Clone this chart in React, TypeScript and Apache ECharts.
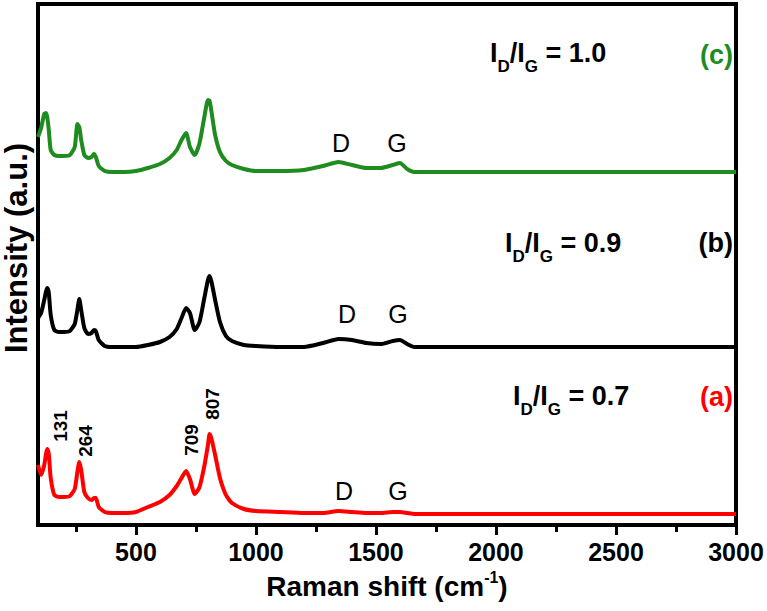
import React, { useEffect, useRef } from 'react';
import * as echarts from 'echarts';

// Raman shift (cm-1) sampling positions
const ramanShift = [
  92, 105, 118, 126, 131, 137, 145, 160, 180, 200, 225, 245, 256, 264, 272, 285, 300, 315, 325, 333,
  345, 370, 400, 450, 500, 550, 600, 640, 670, 690, 709, 725, 745, 765, 785, 800, 807, 815, 830, 850,
  875, 900, 950, 1000, 1100, 1200, 1280, 1344, 1400, 1460, 1520, 1570, 1600, 1630, 1660, 1700, 1800,
  2000, 2200, 2400, 2600, 2800, 3000,
];

// (a) red, I_D/I_G = 0.7 (offset a.u.)
const intensityA = [
  60, 50, 60, 72, 76, 71, 47, 30, 28, 28, 29, 36, 53, 63, 55, 33, 27, 25, 27, 27,
  18, 13, 12, 12, 13, 18, 23, 30, 39, 47, 54, 46, 31, 38, 59, 80, 91, 86, 70, 47,
  30, 22, 16, 14, 13, 12, 12, 14, 13, 12, 12, 13, 13, 12, 11, 11, 11,
  11, 11, 11, 11, 11, 11,
];

// (b) black, I_D/I_G = 0.9
const intensityB = [
  207, 212, 225, 234, 237, 232, 210, 195, 193, 193, 194, 201, 215, 226, 215, 197, 191, 192, 195, 194,
  185, 179, 178, 178, 178, 180, 183, 188, 196, 207, 217, 212, 195, 203, 227, 245, 249, 243, 225, 203,
  189, 184, 180, 179, 178, 178, 182, 186, 185, 182, 181, 184, 185, 181, 178, 178, 178,
  178, 178, 178, 178, 178, 178,
];

// (c) green, I_D/I_G = 1.0
const intensityC = [
  388, 397, 411, 412, 407, 395, 375, 370, 369, 369, 370, 378, 401, 398, 385, 370, 367, 368, 371, 368,
  359, 354, 353, 353, 354, 357, 361, 367, 375, 385, 392, 378, 370, 382, 408, 425, 424, 413, 390, 373,
  364, 360, 356, 354, 354, 355, 359, 363, 360, 357, 357, 360, 362, 356, 353, 353, 353,
  353, 353, 353, 353, 353, 353,
];

const majorTicks = [500, 1000, 1500, 2000, 2500, 3000];
const minorTicks = [250, 750, 1250, 1750, 2250, 2750];
const peakLabels = ['131', '264', '709', '807'];
const ratioValues = ['0.7', '0.9', '1.0'];
const sampleTags = ['(a)', '(b)', '(c)'];

const FONT = '"Liberation Sans", Arial, Helvetica, sans-serif';
const RED = '#ff0000';
const BLACK = '#000000';
const GREEN = '#1e8c1e';

const X_MIN = 92;
const X_MAX = 3000;

export default function App() {
  const ref = useRef<HTMLDivElement>(null);

  useEffect(() => {
    document.body.style.margin = '0';
    if (!ref.current) return;
    const chart = echarts.init(ref.current, undefined, { renderer: 'svg' });

    const ratioText = (x: number, y: number, val: string) => ({
      type: 'text',
      x,
      y,
      style: {
        text: `{m|I}{s|D}{m|/I}{s|G}{m| = ${val}}`,
        align: 'left',
        verticalAlign: 'middle',
        rich: {
          m: { fontSize: 27, fontWeight: 'bold', fontFamily: FONT, fill: BLACK, lineHeight: 44 },
          s: { fontSize: 17, fontWeight: 'bold', fontFamily: FONT, fill: BLACK, lineHeight: 17, verticalAlign: 'bottom' },
        },
      },
    });
    const tag = (x: number, y: number, t: string, color: string) => ({
      type: 'text',
      x,
      y,
      style: { text: t, align: 'right', verticalAlign: 'middle', font: `bold 27px ${FONT}`, fill: color },
    });
    const dg = (x: number, y: number, t: string) => ({
      type: 'text',
      x,
      y,
      style: { text: t, align: 'center', verticalAlign: 'middle', font: `25px ${FONT}`, fill: BLACK },
    });
    const peak = (x: number, y: number, t: string) => ({
      type: 'text',
      x,
      y,
      rotation: Math.PI / 2,
      style: { text: t, align: 'center', verticalAlign: 'middle', font: `bold 19px ${FONT}`, fill: BLACK },
    });

    const mkSeries = (vals: number[], color: string, name: string) => ({
      type: 'line',
      name,
      data: ramanShift.map((x, i) => [x, vals[i]]),
      showSymbol: false,
      symbol: 'none',
      smooth: 0.2,
      lineStyle: { color, width: 4 },
      itemStyle: { color },
      xAxisIndex: 0,
      yAxisIndex: 0,
      clip: true,
    });

    const gridBox = { left: 38, right: 31, top: 4, bottom: 86, outerBoundsMode: 'none' };

    chart.setOption({
      animation: false,
      backgroundColor: '#ffffff',
      grid: [
        {
          ...gridBox,
          show: true,
          borderColor: '#000',
          borderWidth: 4,
          backgroundColor: 'transparent',
        },
        { ...gridBox, show: false },
      ],
      xAxis: [
        {
          type: 'value',
          gridIndex: 0,
          min: X_MIN,
          max: X_MAX,
          position: 'bottom',
          axisLine: { show: true, onZero: false, lineStyle: { color: '#000', width: 4 } },
          axisTick: { show: true, customValues: majorTicks, length: 10, lineStyle: { color: '#000', width: 3 } },
          axisLabel: {
            show: true,
            customValues: majorTicks,
            formatter: (v: number) => String(v),
            margin: 14,
            color: '#000',
            fontSize: 25,
            fontWeight: 'bold',
            fontFamily: FONT,
          },
          splitLine: { show: false },
          name: '{n|Raman shift (cm}{s|-1}{n|)}',
          nameLocation: 'middle',
          nameGap: 44,
          nameTextStyle: {
            rich: {
              n: { fontSize: 28, fontWeight: 'bold', fontFamily: FONT, color: '#000', lineHeight: 34 },
              s: { fontSize: 16, fontWeight: 'bold', fontFamily: FONT, color: '#000', lineHeight: 24, verticalAlign: 'top' },
            },
          },
        },
        {
          type: 'value',
          gridIndex: 1,
          min: X_MIN,
          max: X_MAX,
          position: 'bottom',
          axisLine: { show: false, onZero: false },
          axisTick: { show: true, customValues: minorTicks, length: 7, lineStyle: { color: '#000', width: 3 } },
          axisLabel: { show: false, customValues: minorTicks },
          splitLine: { show: false },
        },
      ],
      yAxis: [
        {
          type: 'value',
          gridIndex: 0,
          min: 0,
          max: 521,
          axisLine: { show: false },
          axisTick: { show: false },
          axisLabel: { show: false },
          splitLine: { show: false },
        },
        {
          type: 'value',
          gridIndex: 1,
          min: 0,
          max: 521,
          axisLine: { show: false },
          axisTick: { show: false },
          axisLabel: { show: false },
          splitLine: { show: false },
        },
      ],
      series: [
        mkSeries(intensityA, RED, '(a)'),
        mkSeries(intensityB, BLACK, '(b)'),
        mkSeries(intensityC, GREEN, '(c)'),
      ],
      graphic: [
        {
          type: 'text',
          x: 16,
          y: 248,
          rotation: Math.PI / 2,
          style: { text: 'Intensity (a.u.)', align: 'center', verticalAlign: 'middle', font: `bold 31px ${FONT}`, fill: BLACK },
        },
        ratioText(490, 53, ratioValues[2]),
        ratioText(505, 243, ratioValues[1]),
        ratioText(513, 396, ratioValues[0]),
        tag(733, 55, sampleTags[2], GREEN),
        tag(733, 243, sampleTags[1], BLACK),
        tag(733, 397, sampleTags[0], RED),
        dg(341, 143, 'D'),
        dg(397, 143, 'G'),
        dg(347, 314, 'D'),
        dg(398, 314, 'G'),
        dg(344, 491, 'D'),
        dg(398, 491, 'G'),
        peak(60, 426, peakLabels[0]),
        peak(85, 441, peakLabels[1]),
        peak(191, 440, peakLabels[2]),
        peak(212, 404, peakLabels[3]),
      ],
    });

    return () => chart.dispose();
  }, []);

  return <div ref={ref} style={{ width: 767, height: 611 }} />;
}
